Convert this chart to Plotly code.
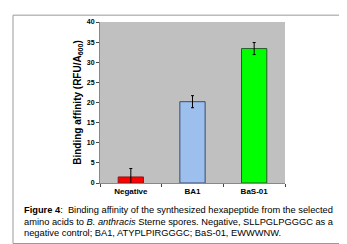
import plotly.graph_objects as go

categories = ["Negative", "BA1", "BaS-01"]
values = [1.5, 20.2, 33.4]
errors = [2.1, 1.5, 1.5]
bar_colors = ["#ff0000", "#9dbfee", "#00ff00"]
line_colors = ["#8b1a1a", "#3a4a6a", "#2a5a2a"]
y_ticks = [0, 5, 10, 15, 20, 25, 30, 35, 40]

W, H = 347, 244
L, R, T, B = 92, 70, 10, 69
pw, ph = W - L - R, H - T - B

def px_x(x):
    return (x - L) / pw

def px_y(y):
    return (H - B - y) / ph

fig = go.Figure(go.Bar(
    x=categories, y=values, width=0.41,
    marker=dict(color=bar_colors, line=dict(color=line_colors, width=1)),
    error_y=dict(type="data", array=errors, color="#000000", thickness=1, width=1.5),
))

font = "Liberation Sans, Arial, sans-serif"
fig.update_layout(
    width=W, height=H, margin=dict(l=L, r=R, t=T, b=B),
    paper_bgcolor="white", plot_bgcolor="#c0c0c0",
    showlegend=False, font=dict(family=font, color="black"),
    xaxis=dict(tickson="boundaries", ticks="outside", ticklen=3, tickcolor="#444",
               showline=True, linecolor="#888", linewidth=1,
               tickfont=dict(size=8, family=font, weight="bold"),
               ticklabelstandoff=0, range=[-0.5, 2.5]),
    yaxis=dict(range=[0, 40], tickvals=y_ticks, ticks="outside", ticklen=3,
               tickcolor="#444", showgrid=False, zeroline=False,
               showline=True, linecolor="#888", linewidth=1,
               tickfont=dict(size=7, family=font, weight="bold"),
               title=dict(text="Binding affinity (RFU/A<sub>600</sub>)", standoff=3,
                          font=dict(size=10, family=font, weight="bold"))),
)

fig.add_shape(type="rect", xref="paper", yref="paper",
              x0=px_x(5), x1=px_x(341), y0=px_y(237), y1=px_y(3),
              line=dict(color="#999", width=1), layer="below")

lines = [
    "<b>Figure 4</b>:  Binding affinity of the synthesized hexapeptide from the selected",
    "amino acids to <i>B. anthracis</i> Sterne spores. Negative, SLLPGLPGGGC as a",
    "negative control; BA1, ATYPLPIRGGGC; BaS-01, EWWWNW.",
]
for i, (t, yy) in enumerate(zip(lines, [203, 214.5, 226])):
    fig.add_annotation(text=t, xref="paper", yref="paper", x=px_x(14), y=px_y(yy),
                       xanchor="left", yanchor="middle", showarrow=False,
                       font=dict(size=9.3, family=font, color="black"))

fig.write_html("out.html")
